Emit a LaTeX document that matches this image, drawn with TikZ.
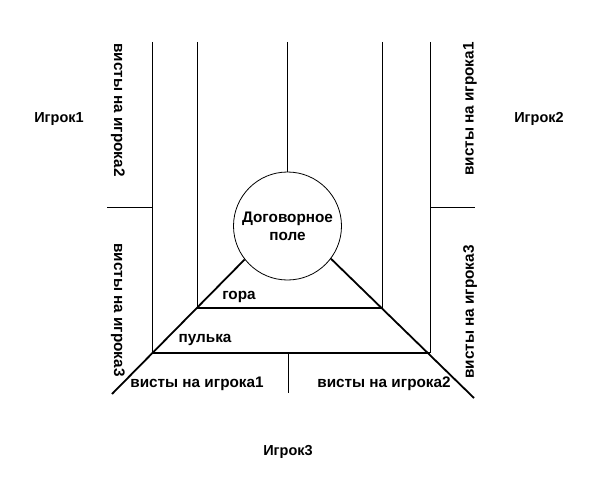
\documentclass[tikz,border=0pt]{standalone}
\usepackage{fontspec}
\setmainfont{Liberation Sans}
\begin{document}
\begin{tikzpicture}[x=1pt,y=-1pt,
  lbl/.style={font=\bfseries\fontsize{15.3}{17}\selectfont, inner sep=0pt},
  plbl/.style={font=\bfseries\fontsize{14.5}{17}\selectfont, inner sep=0pt},
  thin line/.style={line width=1pt},
  thick line/.style={line width=1.8pt},
  mid line/.style={line width=1.3pt}]
\useasboundingbox (0,0) rectangle (600,495);
\fill[white] (0,0) rectangle (600,495);
% circle
\node[draw, circle, line width=0.8pt, minimum size=108pt, inner sep=0pt, align=center,
  font=\bfseries\fontsize{15.3}{18}\selectfont] (c) at (287.5,226) {Договорное\\поле};
% coordinates
\coordinate (lt) at (152,42);  \coordinate (lb) at (152,353);
\coordinate (ilt) at (197,42); \coordinate (ilb) at (197,308);
\coordinate (irt) at (382,42); \coordinate (irb) at (382,308);
\coordinate (rt) at (430,42);  \coordinate (rb) at (430,353);
\coordinate (ct) at (287.5,42);
\coordinate (lh) at (107,207); \coordinate (lhe) at (152,207);
\coordinate (rh) at (430,207); \coordinate (rhe) at (475,207);
\coordinate (le) at (112,394); \coordinate (re) at (474,398);
\coordinate (bt) at (288,353); \coordinate (bb) at (288,393);
% lines
\draw[thin line] (lt) -- (lb);
\draw[thin line] (ilt) -- (ilb);
\draw[thin line] (irt) -- (irb);
\draw[thin line] (rt) -- (rb);
\draw[thick line] (ct) -- (c.north);
\draw[thin line] (lh) -- (lhe);
\draw[thin line] (rh) -- (rhe);
\draw[mid line] (ilb) -- (irb);
\draw[mid line] (lb) -- (rb);
\draw[thin line] (bt) -- (bb);
\draw[thick line] (c.218) -- (le);
\draw[thick line] (c.323) -- (re);
% labels
\node[plbl] (p1) at (59,119) {Игрок1};
\node[plbl] (p2) at (539,119) {Игрок2};
\node[plbl] (p3) at (288,452) {Игрок3};
\node[lbl, rotate=-90] (v12) at (118,110) {висты на игрока2};
\node[lbl, rotate=-90] (v13) at (118,310) {висты на игрока3};
\node[lbl, rotate=90] (v21) at (470,109) {висты на игрока1};
\node[lbl, rotate=90] (v23) at (470,312) {висты на игрока3};
\node[lbl] (v31) at (197,384) {висты на игрока1};
\node[lbl] (v32) at (384,384) {висты на игрока2};
\node[lbl] (gora) at (239,297) {гора};
\node[lbl] (pulka) at (205,340) {пулька};
\end{tikzpicture}
\end{document}
